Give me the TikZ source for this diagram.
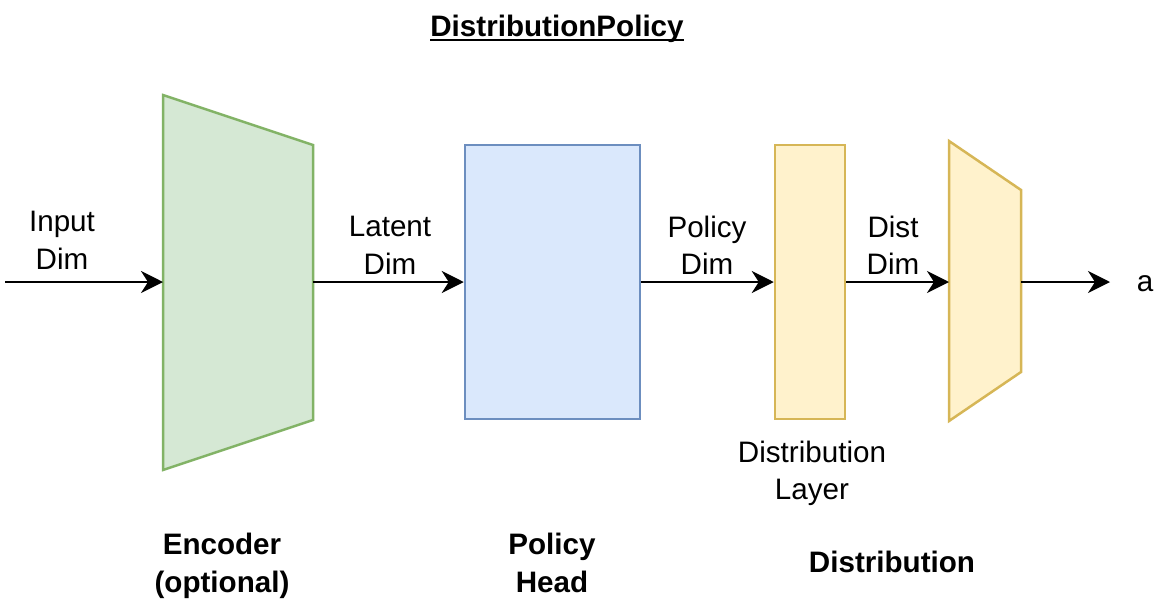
\documentclass[tikz,border=0pt]{standalone}
\usepackage{fontspec}
\setmainfont{Liberation Sans}
\usetikzlibrary{arrows.meta}
\definecolor{gfill}{HTML}{D5E8D4}
\definecolor{gline}{HTML}{82B366}
\definecolor{bfill}{HTML}{DAE8FC}
\definecolor{bline}{HTML}{6C8EBF}
\definecolor{yfill}{HTML}{FFF2CC}
\definecolor{yline}{HTML}{D6B656}
\newcommand\myuline[1]{\setbox0\hbox{#1}\rlap{\vrule height -2.7pt depth 5.4pt width \wd0}\box0}
\begin{document}
\begin{tikzpicture}[x=1pt,y=-1pt,
  lbl/.style={font=\fontsize{29.6}{37.5}\selectfont, align=center, inner sep=0pt},
  blbl/.style={font=\fontsize{29.6}{37.5}\selectfont\bfseries, align=center, inner sep=0pt},
  conn/.style={line width=2.5pt, -{Stealth[length=22pt,width=22pt,inset=7pt]}},
  greenshape/.style={draw=gline, fill=gfill, line width=2.5pt, line join=miter},
  blueshape/.style={draw=bline, fill=bfill, line width=2.5pt},
  yellowshape/.style={draw=yline, fill=yfill, line width=2.5pt, line join=miter}]
\useasboundingbox (0,0) rectangle (1166,611);

% title
\node[blbl, anchor=base] (title) at (557,36) {\myuline{DistributionPolicy}};

% encoder trapezoid
\draw[greenshape] (163,95) -- (313,145) -- (313,420) -- (163,470) -- cycle;
\coordinate (encin) at (163,282);
\coordinate (encout) at (313,282);

% policy head
\node[blueshape, minimum width=175pt, minimum height=274pt, inner sep=0pt] (head) at (552.5,282) {};

% distribution layer
\node[yellowshape, minimum width=70pt, minimum height=274pt, inner sep=0pt] (layer) at (810,282) {};

% distribution trapezoid
\draw[yellowshape] (949,141) -- (1021,190) -- (1021,372) -- (949,421) -- cycle;
\coordinate (distin) at (949,282);
\coordinate (distout) at (1021,282);

% free ends
\coordinate (inp) at (5,282);
\coordinate (aend) at (1110,282);
\node[lbl, anchor=base] (a) at (1145,291) {a};

% connectors
\draw[conn] (inp) -- (encin);
\draw[conn] (encout) -- (head.west);
\draw[conn] (head.east) -- (layer.west);
\draw[conn] (layer.east) -- (distin);
\draw[conn] (distout) -- (aend);

% connector labels
\node[lbl] (linput) at (62,240.5) {Input\\Dim};
\node[lbl] (llatent) at (390,245.5) {Latent\\Dim};
\node[lbl] (lpolicy) at (707,245.5) {Policy\\Dim};
\node[lbl] (ldist) at (893,245.5) {Dist\\Dim};

% other labels
\node[lbl] (llayer) at (812,473.5) {Distribution\\Layer};
\node[blbl] (lenc) at (222,566) {Encoder\\(optional)};
\node[blbl] (lhead) at (552,563) {Policy\\Head};
\node[blbl, anchor=base] (ldistr) at (892,572) {Distribution};
\end{tikzpicture}
\end{document}
